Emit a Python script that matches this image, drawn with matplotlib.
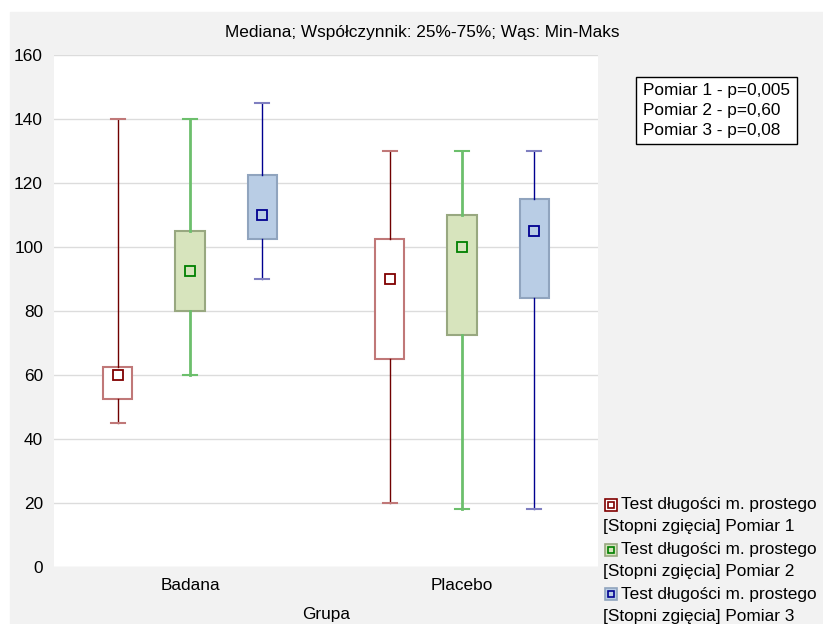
import matplotlib.pyplot as plt
from matplotlib.patches import Rectangle

plt.rcParams['font.family'] = ['Liberation Sans', 'DejaVu Sans']

groups = ['Badana', 'Placebo']
series = ['Pomiar 1', 'Pomiar 2', 'Pomiar 3']

# min, q1, median, q3, max per series, per group
mins = [[45, 60, 90], [20, 18, 18]]
q1s = [[52.5, 80, 102.5], [65, 72.5, 84]]
meds = [[60, 92.5, 110], [90, 100, 105]]
q3s = [[62.5, 105, 122.5], [102.5, 110, 115]]
maxs = [[140, 140, 145], [130, 130, 130]]

p_values = ['Pomiar 1 - p=0,005', 'Pomiar 2 - p=0,60', 'Pomiar 3 - p=0,08']

box_fill = ['white', '#d7e4bd', '#b9cde5']
box_edge = ['#c07878', '#98a880', '#90a4be']
whisk_col = ['#700000', '#6cbf6c', '#000090']
whisk_lw = [1, 2, 1]
cap_col = ['#c07878', '#6cbf6c', '#7f7fc0']
med_edge = ['#800000', '#008000', '#000090']

FS = 12.4

fig = plt.figure(figsize=(8.23, 6.24), dpi=100)
fig.patches.append(Rectangle((10 / 823, 0), 1, (624 - 12) / 624,
                             transform=fig.transFigure, color='#f2f2f2', zorder=-5))
ax = fig.add_axes([54 / 823, 57 / 624, 544 / 823, 512 / 624])
ax.set_facecolor('white')

offsets = [-0.265, 0, 0.265]
for s in range(3):
    stats = []
    pos = []
    for g in range(2):
        stats.append({'whislo': mins[g][s], 'q1': q1s[g][s], 'med': meds[g][s],
                      'q3': q3s[g][s], 'whishi': maxs[g][s], 'mean': meds[g][s]})
        pos.append(g + 1 + offsets[s])
    ax.bxp(stats, positions=pos, widths=0.107, capwidths=0.054,
           patch_artist=True, showmeans=True, showfliers=False,
           boxprops=dict(facecolor=box_fill[s], edgecolor=box_edge[s], linewidth=1.5),
           whiskerprops=dict(color=whisk_col[s], linewidth=whisk_lw[s]),
           capprops=dict(color=cap_col[s], linewidth=1.5),
           medianprops=dict(linestyle='none'),
           meanprops=dict(marker='s', markersize=7, markerfacecolor=box_fill[s],
                          markeredgecolor=med_edge[s], markeredgewidth=1.3))

ax.set_xlim(0.5, 2.5)
ax.set_ylim(0, 160)
ax.set_yticks(range(0, 161, 20))
ax.set_xticks([1, 2])
ax.set_xticklabels(groups)
ax.grid(axis='y', color='#dcdcdc', linewidth=1)
ax.set_axisbelow(True)
for sp in ax.spines.values():
    sp.set_visible(False)
ax.tick_params(length=0, labelsize=FS, pad=8)
ax.set_xlabel('Grupa', fontsize=FS, labelpad=10)

fig.text(422 / 823, 1 - 33 / 624, 'Mediana; Współczynnik: 25%-75%; Wąs: Min-Maks',
         ha='center', va='center', fontsize=FS)

fig.text(643 / 823, 1 - 110.5 / 624, '\n'.join(p_values), ha='left', va='center',
         fontsize=FS, linespacing=1.38,
         bbox=dict(boxstyle='square,pad=0.38', facecolor='white', edgecolor='black', linewidth=1))

# legend, drawn by hand to keep the marker on the first line
for s in range(3):
    y1 = 1 - (505 + s * 44.5) / 624
    y2 = 1 - (527 + s * 44.5) / 624
    fig.patches.append(Rectangle((604.5 / 823, y1 - 6 / 624), 12 / 823, 12 / 624,
                                 transform=fig.transFigure, facecolor=box_fill[s],
                                 edgecolor=box_edge[s] if s else med_edge[s],
                                 linewidth=1.2, zorder=3))
    fig.patches.append(Rectangle((607.5 / 823, y1 - 3 / 624), 6 / 823, 6 / 624,
                                 transform=fig.transFigure, facecolor='none',
                                 edgecolor=med_edge[s], linewidth=1.2, zorder=4))
    fig.text(621 / 823, y1, 'Test długości m. prostego', ha='left', va='center', fontsize=FS)
    fig.text(603 / 823, y2, '[Stopni zgięcia] ' + series[s], ha='left', va='center', fontsize=FS)

fig.savefig('out.png', dpi=100)
